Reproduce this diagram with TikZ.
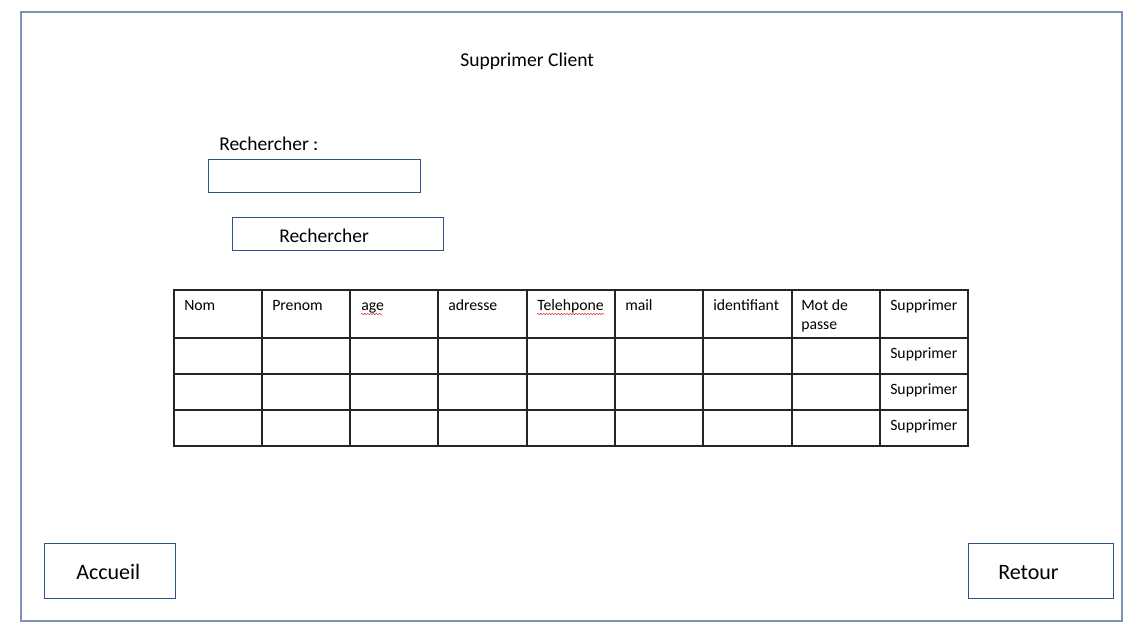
\documentclass[tikz,border=0pt]{standalone}
\usepackage{fontspec}
\setmainfont{Carlito}
\usetikzlibrary{decorations.pathmorphing}
\definecolor{frameblue}{HTML}{7F93B8}
\definecolor{boxblue}{HTML}{2F528F}
\definecolor{spellred}{HTML}{E04040}
\begin{document}
\begin{tikzpicture}[x=0.75pt,y=-0.75pt,
  frame/.style={draw=frameblue,line width=1.5pt},
  uibox/.style={draw=boxblue,line width=0.9pt},
  grid/.style={draw=black!85,line width=1.1pt},
  title/.style={font=\fontsize{14.7}{17}\selectfont,anchor=base west,inner sep=0},
  lbl/.style={font=\fontsize{14.6}{17}\selectfont,anchor=base west,inner sep=0},
  cell/.style={font=\fontsize{11.8}{14.2}\selectfont,anchor=base west,inner sep=0},
  big/.style={font=\fontsize{16.5}{19}\selectfont,anchor=base west,inner sep=0},
  squig/.style={draw=spellred,line width=0.4pt,decorate,decoration={snake,amplitude=0.6pt,segment length=2.2pt}}]
\useasboundingbox (0,0) rectangle (1140,637);
\fill[white] (0,0) rectangle (1140,637);
% outer frame
\draw[frame] (21,12) rectangle (1122,621);
% title
\node[title] (ttl) at (460,66) {Supprimer Client};
% search
\node[lbl] (rlbl) at (219,150) {Rechercher :};
\node[uibox,minimum width=212*0.75pt,minimum height=33*0.75pt,anchor=north west,inner sep=0] (field) at (208,159) {};
\node[uibox,minimum width=211*0.75pt,minimum height=33*0.75pt,anchor=north west,inner sep=0] (btn) at (232,217) {};
\node[lbl] (btnt) at (279,242) {Rechercher};
% table
\draw[grid] (174,290) rectangle (968,446);
\foreach \yy in {338,374,410} \draw[grid] (174,\yy) -- (968,\yy);
\foreach \xx in {262,350,438,527,615,703,792,880} \draw[grid] (\xx,290) -- (\xx,446);
\node[cell] (h1) at (184,310) {Nom};
\node[cell] (h2) at (272,310) {Prenom};
\node[cell] (h3) at (361,310) {age};
\node[cell] (h4) at (448,310) {adresse};
\node[cell] (h5) at (537,310) {Telehpone};
\node[cell] (h6) at (625,310) {mail};
\node[cell] (h7) at (713,310) {identifiant};
\node[cell] (h8) at (801,310) {Mot de};
\node[cell] (h8b) at (801,329) {passe};
\node[cell] (h9) at (890,310) {Supprimer};
\node[cell] (s1) at (890,358) {Supprimer};
\node[cell] (s2) at (890,394) {Supprimer};
\node[cell] (s3) at (890,430) {Supprimer};
\draw[squig] (h3.base west) ++(0,4) -- ++(21,0);
\draw[squig] (h5.base west) ++(0,4) -- ++(67,0);
% bottom buttons
\node[uibox,minimum width=131*0.75pt,minimum height=55*0.75pt,anchor=north west,inner sep=0] (acc) at (44,543) {};
\node[big] (acct) at (76,579) {Accueil};
\node[uibox,minimum width=145*0.75pt,minimum height=55*0.75pt,anchor=north west,inner sep=0] (ret) at (968,543) {};
\node[big] (rett) at (998,579) {Retour};
\end{tikzpicture}
\end{document}
